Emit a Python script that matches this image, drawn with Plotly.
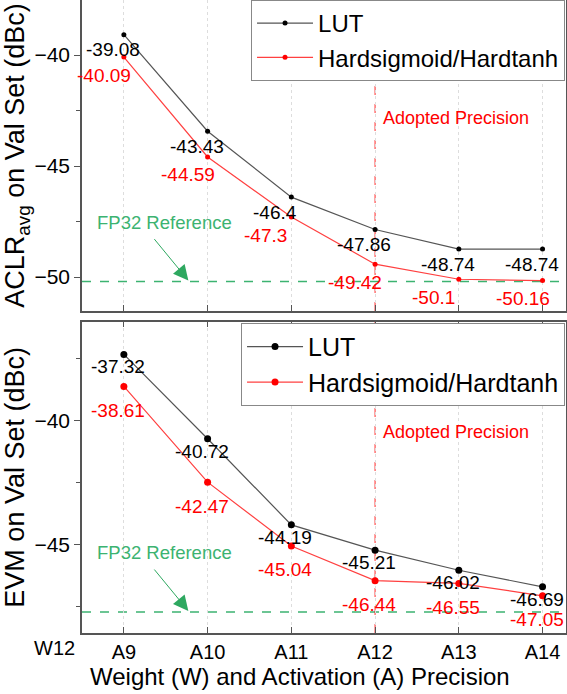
import plotly.graph_objects as go
from plotly.subplots import make_subplots

# ---------------- data ----------------
categories = ["A9", "A10", "A11", "A12", "A13", "A14"]
weight_label = "W12"
aclr_lut = [-39.08, -43.43, -46.4, -47.86, -48.74, -48.74]
aclr_hard = [-40.09, -44.59, -47.3, -49.42, -50.1, -50.16]
evm_lut = [-37.32, -40.72, -44.19, -45.21, -46.02, -46.69]
evm_hard = [-38.61, -42.47, -45.04, -46.44, -46.55, -47.05]
aclr_fp32 = -50.2
evm_fp32 = -47.7
adopted_index = 3
series_names = ["LUT", "Hardsigmoid/Hardtanh"]

# ---------------- styles ----------------
FONT = "Arial, 'Liberation Sans', sans-serif"
BLACK_LINE = "#555555"
RED_LINE = "#ff4040"
GREEN = "#3cb371"
AXIS = "#555555"

x = list(range(len(categories)))

fig = make_subplots(rows=2, cols=1, shared_xaxes=True)

panels = [
    dict(row=1, lut=aclr_lut, hard=aclr_hard, fp=aclr_fp32, legend="legend", msize=5,
         xr="x", yr="y", bshift=(-40, -15), rshift=(-49, -18), adopt_shift=-83),
    dict(row=2, lut=evm_lut, hard=evm_hard, fp=evm_fp32, legend="legend2", msize=7,
         xr="x2", yr="y2", bshift=(-35, -12.5), rshift=(-35, -24), adopt_shift=-78),
]

annotations = []
shapes = []
for p in panels:
    fig.add_trace(go.Scatter(x=x, y=p["lut"], mode="lines+markers", name=series_names[0],
                             line=dict(color=BLACK_LINE, width=1.2),
                             marker=dict(color="black", size=p["msize"]),
                             legend=p["legend"]), row=p["row"], col=1)
    fig.add_trace(go.Scatter(x=x, y=p["hard"], mode="lines+markers", name=series_names[1],
                             line=dict(color=RED_LINE, width=1.2),
                             marker=dict(color="red", size=p["msize"]),
                             legend=p["legend"]), row=p["row"], col=1)
    # data labels
    for xi, v in zip(x, p["lut"]):
        annotations.append(dict(x=xi, y=v, xref=p["xr"], yref=p["yr"], text=f"{v:g}",
                                showarrow=False, xanchor="left", yanchor="middle",
                                xshift=p["bshift"][0], yshift=p["bshift"][1],
                                font=dict(family=FONT, size=19, color="black")))
    for xi, v in zip(x, p["hard"]):
        annotations.append(dict(x=xi, y=v, xref=p["xr"], yref=p["yr"], text=f"{v:g}",
                                showarrow=False, xanchor="left", yanchor="middle",
                                xshift=p["rshift"][0], yshift=p["rshift"][1],
                                font=dict(family=FONT, size=19, color="red")))
    # FP32 reference line
    shapes.append(dict(type="line", xref=p["xr"] + " domain", yref=p["yr"], x0=0, x1=1,
                       y0=p["fp"], y1=p["fp"], line=dict(color=GREEN, width=1.5, dash="dash"),
                       layer="below"))
    # adopted precision line
    shapes.append(dict(type="line", xref=p["xr"], yref=p["yr"] + " domain", x0=adopted_index,
                       x1=adopted_index, y0=0, y1=1,
                       line=dict(color="rgba(255,0,0,0.7)", width=1.2, dash="dash"), layer="below"))
    annotations.append(dict(x=adopted_index, y=p["lut"][0], xref=p["xr"], yref=p["yr"],
                            text="Adopted Precision", showarrow=False, xanchor="left",
                            yanchor="middle", xshift=6, yshift=p["adopt_shift"],
                            font=dict(family=FONT, size=18, color="red")))
    # FP32 text + arrow
    annotations.append(dict(x=0.027, y=p["fp"], xref=p["xr"] + " domain", yref=p["yr"],
                            text="FP32 Reference", showarrow=False, xanchor="left",
                            yanchor="middle", yshift=59,
                            font=dict(family=FONT, size=18.5, color=GREEN)))
    annotations.append(dict(x=0.77, y=p["fp"], xref=p["xr"], yref=p["yr"], text=" ",
                            showarrow=True, ax=-37, ay=-45, yshift=1,
                            arrowhead=2, arrowsize=3, arrowwidth=1, arrowcolor="#2ea860",
                            standoff=0))

# x axis title and W12 label
annotations.append(dict(x=0.45, y=-0.0695, xref="paper", yref="paper",
                        text="Weight (W) and Activation (A) Precision", showarrow=False,
                        xanchor="center", yanchor="middle",
                        font=dict(family=FONT, size=24, color="black")))
annotations.append(dict(x=-0.056, y=-0.0237, xref="paper", yref="paper",
                        text=weight_label, showarrow=False, xanchor="center", yanchor="middle",
                        font=dict(family=FONT, size=20, color="black")))

common_x = dict(range=[-0.5, 5.28], tickmode="array", tickvals=x, ticktext=categories,
                ticks="inside", ticklen=6, tickwidth=1.2, tickcolor=AXIS,
                showline=True, linecolor=AXIS, linewidth=1.5, mirror="ticks",
                showgrid=True, gridcolor="#dddddd", griddash="dot", gridwidth=1,
                zeroline=False, automargin=False,
                tickfont=dict(family=FONT, size=20, color="black"))
common_y = dict(ticks="outside", ticklen=6, tickwidth=1.2, tickcolor=AXIS,
                showline=True, linecolor=AXIS, linewidth=1.5, mirror=True,
                showgrid=False, zeroline=False, dtick=5, tick0=0, automargin=False,
                minor=dict(ticks="outside", dtick=2.5, ticklen=4, tickcolor=AXIS, tickwidth=1.2),
                tickfont=dict(family=FONT, size=21, color="black"))

fig.update_layout(
    width=567, height=694,
    margin=dict(l=82, r=1, t=0, b=61, autoexpand=False),
    paper_bgcolor="white", plot_bgcolor="white",
    font=dict(family=FONT, color="black"),
    annotations=annotations, shapes=shapes,
    xaxis=dict(common_x, showticklabels=False, mirror=False),
    xaxis2=dict(common_x),
    yaxis=dict(common_y, domain=[0.5087, 1.0], range=[-51.53, -37.52],
               title=dict(text="ACLR<sub>avg</sub> on Val Set (dBc)",
                          font=dict(family=FONT, size=27, color="black"))),
    yaxis2=dict(common_y, domain=[0.0, 0.4918], range=[-48.55, -36.0],
                title=dict(text="EVM on Val Set (dBc)",
                           font=dict(family=FONT, size=27, color="black"))),
    legend=dict(x=0.998, y=1.0, xanchor="right", yanchor="top", bgcolor="white",
                bordercolor="#888888", borderwidth=1, itemwidth=56,
                font=dict(family=FONT, size=24, color="black"), tracegroupgap=0),
    legend2=dict(x=0.998, y=0.490, xanchor="right", yanchor="top", bgcolor="white",
                 bordercolor="#888888", borderwidth=1, itemwidth=56,
                 font=dict(family=FONT, size=25, color="black"), tracegroupgap=0),
)

fig.write_html("out.html", config={"displayModeBar": False},
               post_script="document.body.style.margin='0';document.body.style.overflow='hidden';")
